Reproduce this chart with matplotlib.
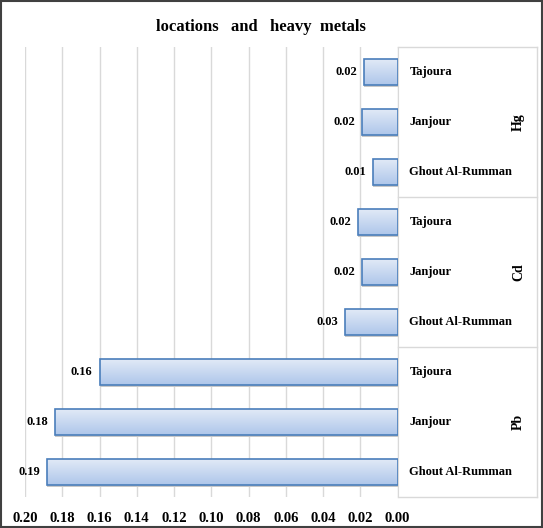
import numpy as np
import matplotlib
matplotlib.use("Agg")
import matplotlib.pyplot as plt
from matplotlib.lines import Line2D
from matplotlib.patches import Rectangle

# data (bottom row first, like the original spreadsheet)
metals = ["Pb", "Cd", "Hg"]
locations = ["Ghout Al-Rumman", "Janjour", "Tajoura"]
pb_values = [0.188, 0.184, 0.160]
cd_values = [0.028, 0.019, 0.021]
hg_values = [0.013, 0.019, 0.018]
ticks = [0.20, 0.18, 0.16, 0.14, 0.12, 0.10, 0.08, 0.06, 0.04, 0.02, 0.00]

plt.rcParams['font.family'] = ['Liberation Serif', 'DejaVu Serif']
plt.rcParams['font.weight'] = 'bold'

W, H = 543, 528
fig = plt.figure(figsize=(W / 100, H / 100), dpi=100)
ax = fig.add_axes([25 / W, 31 / H, 372.5 / W, 450 / H])

values = pb_values + cd_values + hg_values
ypos = np.arange(len(values))
bar_h = 0.53

grad = np.linspace(0, 1, 64).reshape(-1, 1)
cmap = matplotlib.colors.LinearSegmentedColormap.from_list("g", ["#aec6ea", "#e3ebf7"])

for y, v in zip(ypos, values):
    # faint shadow
    sh = Rectangle((v, y - bar_h / 2 - 0.04), -v, bar_h, facecolor="#c8c8c8",
                   edgecolor="none", zorder=2)
    ax.add_patch(sh)
    rect = Rectangle((v, y - bar_h / 2), -v, bar_h, facecolor="none",
                     edgecolor="#4a7ebb", linewidth=1.2, zorder=4)
    ax.add_patch(rect)
    im = ax.imshow(grad, extent=(v, 0, y - bar_h / 2, y + bar_h / 2), cmap=cmap,
                   aspect="auto", origin="lower", zorder=3)
    im.set_clip_path(rect)
    ax.annotate(f"{v:.2f}", (v, y), xytext=(-5, 0), textcoords="offset points",
                ha="right", va="center", fontsize=9, fontweight="bold")

ax.set_xlim(0.20, 0.00)
ax.set_ylim(-0.5, len(values) - 0.5)
ax.set_xticks(ticks)
ax.set_xticklabels([f"{t:.2f}" for t in ticks], fontsize=10.5, fontweight="bold")
ax.set_yticks([])
ax.tick_params(axis="x", length=0, pad=11)
ax.grid(axis="x", color="#d9d9d9", linewidth=1)
ax.set_axisbelow(True)
for s in ["top", "bottom", "left"]:
    ax.spines[s].set_visible(False)
ax.spines["right"].set_color("#d9d9d9")
ax.set_xlim(0.20, 0.00)

# category labels on the right side
box_right = (537 - 25) / 372.5
for i, m in enumerate(metals):
    for j, loc in enumerate(locations):
        y = i * 3 + j
        ax.text(1.032, y, loc, transform=ax.get_yaxis_transform(), ha="left",
                va="center", fontsize=9, fontweight="bold")
    ax.text(1.325, i * 3 + 1, m, transform=ax.get_yaxis_transform(), ha="center",
            va="center", rotation=90, fontsize=10, fontweight="bold")

for b in [-0.5, 2.5, 5.5, 8.5]:
    ax.add_line(Line2D([1.0, box_right], [b, b], transform=ax.get_yaxis_transform(),
                       color="#d9d9d9", linewidth=1, clip_on=False))
ax.add_line(Line2D([box_right, box_right], [-0.5, 8.5], transform=ax.get_yaxis_transform(),
                   color="#d9d9d9", linewidth=1, clip_on=False))

fig.text(261 / W, 1 - 27 / H, "locations   and   heavy  metals", ha="center",
         va="center", fontsize=12, fontweight="bold")

fig.patches.append(Rectangle((0.002, 0.002), 0.996, 0.996, transform=fig.transFigure,
                             fill=False, edgecolor="#404040", linewidth=1.5))

fig.savefig("out.png", dpi=100)
